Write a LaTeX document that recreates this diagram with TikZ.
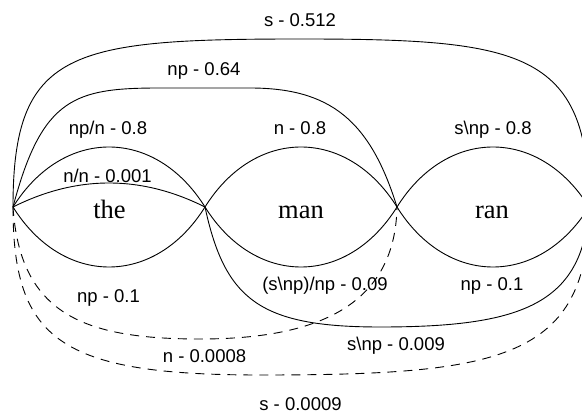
\documentclass[tikz,border=0pt]{standalone}
\usepackage{fontspec}
\setmainfont{Liberation Serif}
\newfontfamily\lblfont{Liberation Sans}
\begin{document}
\begin{tikzpicture}[x=1pt,y=-1pt,
  edge/.style={line width=0.9pt},
  dashedge/.style={line width=0.9pt, dash pattern=on 9pt off 7pt},
  lbl/.style={font=\lblfont\fontsize{18.5}{20}\selectfont, anchor=base, inner sep=0pt},
  word/.style={font=\fontsize{26.5}{30}\selectfont, anchor=base, inner sep=0pt}]
\useasboundingbox (0,0) rectangle (582,414);
\clip (0,0) rectangle (582,414);
% vertices
\coordinate (v0) at (13,207);
\coordinate (v1) at (205,207);
\coordinate (v2) at (397,207);
\coordinate (v3) at (589,207);
% words
\node[word] (wthe) at (109.5,219) {the};
\node[word] (wman) at (301,219) {man};
\node[word] (wran) at (492,219) {ran};
% word arcs above
\draw[edge] (v0) .. controls (63,127) and (155,127) .. (v1);
\draw[edge] (v1) .. controls (255,127) and (347,127) .. (v2);
\draw[edge] (v2) .. controls (447,127) and (539,127) .. (v3);
\draw[edge] (v0) .. controls (77,175) and (141,175) .. (v1);
% word arcs below
\draw[edge] (v0) .. controls (63,287) and (155,287) .. (v1);
\draw[edge] (v1) .. controls (255,287) and (347,287) .. (v2);
\draw[edge] (v2) .. controls (447,287) and (539,287) .. (v3);
% np - 0.64
\draw[edge] (v0) .. controls (42,97) and (75,88) .. (160,88) -- (250,88)
  .. controls (330,88) and (370,120) .. (v2);
% s - 0.512
\draw[edge] (v0) .. controls (13,50) and (70,39) .. (300,39)
  .. controls (520,39) and (589,50) .. (v3);
% s\np - 0.009
\draw[edge] (v1) .. controls (225,300) and (260,327) .. (380,327)
  .. controls (520,327) and (583,305) .. (v3);
% n - 0.0008 (dashed)
\draw[dashedge] (v0) .. controls (20,315) and (85,339) .. (200,339)
  .. controls (310,339) and (395,310) .. (v2);
% s - 0.0009 (dashed)
\draw[dashedge] (v0) .. controls (13,340) and (60,375) .. (260,375)
  .. controls (500,375) and (589,360) .. (v3);
% labels
\node[lbl] (l1) at (300,27) {s - 0.512};
\node[lbl] (l2) at (204,76) {np - 0.64};
\node[lbl] (l3) at (108,135) {np/n - 0.8};
\node[lbl] (l4) at (300,135) {n - 0.8};
\node[lbl] (l5) at (493,135) {s\textbackslash np - 0.8};
\node[lbl] (l6) at (107.5,183) {n/n - 0.001};
\node[lbl] (l7) at (108.5,303) {np - 0.1};
\node[lbl] (l8) at (325,291) {(s\textbackslash np)/np - 0.09};
\node[lbl] (l9) at (492,291) {np - 0.1};
\node[lbl] (l10) at (396,351) {s\textbackslash np - 0.009};
\node[lbl] (l11) at (204.5,363) {n - 0.0008};
\node[lbl] (l12) at (300.5,411) {s - 0.0009};
\end{tikzpicture}
\end{document}
